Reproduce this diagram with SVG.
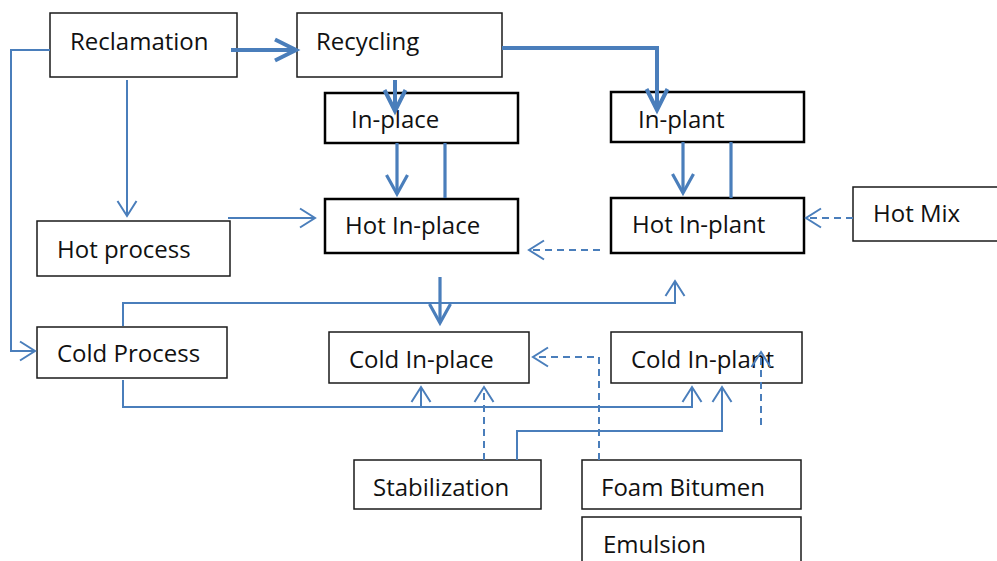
<svg xmlns="http://www.w3.org/2000/svg" width="997" height="561" viewBox="0 0 997 561">
<style>
.box{fill:#fff;stroke:#1a1a1a;stroke-width:1.5}
.boxb{fill:#fff;stroke:#000;stroke-width:2.5}
.t{font-family:"Open Sans","Noto Sans","DejaVu Sans",sans-serif;font-size:24px;fill:#111}
.c{fill:none;stroke:#4a7ebb;stroke-linejoin:miter}
.thin{stroke-width:2;marker-end:url(#aThin)}
.thinn{stroke-width:2}
.dash{stroke-width:2;stroke-dasharray:7 5;marker-end:url(#aThin)}
.med{stroke-width:3.2}
.meda{stroke-width:3.2;marker-end:url(#aMed)}
.thick{stroke-width:4;marker-end:url(#aThick)}
</style>
<defs>
<marker id="aThin" markerUnits="userSpaceOnUse" orient="auto" overflow="visible" markerWidth="1" markerHeight="1">
<path d="M-15,-9.5 L0,0 L-15,9.5" fill="none" stroke="#4a7ebb" stroke-width="2"/>
</marker>
<marker id="aMed" markerUnits="userSpaceOnUse" orient="auto" overflow="visible" markerWidth="1" markerHeight="1">
<path d="M-19,-10.5 L0,0 L-19,10.5" fill="none" stroke="#4a7ebb" stroke-width="3.2"/>
</marker>
<marker id="aThick" markerUnits="userSpaceOnUse" orient="auto" overflow="visible" markerWidth="1" markerHeight="1">
<path d="M-21,-10.5 L0,0 L-21,10.5" fill="none" stroke="#4a7ebb" stroke-width="4"/>
</marker>
</defs>
<g id="nodes">
<g id="reclamation"><rect class="box" x="50" y="13" width="187" height="64"/><text class="t" x="70" y="50">Reclamation</text></g>
<g id="recycling"><rect class="box" x="297" y="13" width="205" height="64"/><text class="t" x="316" y="50">Recycling</text></g>
<g id="in-place"><rect class="boxb" x="325" y="93" width="193" height="50"/><text class="t" x="351" y="128">In-place</text></g>
<g id="in-plant"><rect class="boxb" x="611" y="92" width="193" height="50"/><text class="t" x="638" y="128">In-plant</text></g>
<g id="hot-process"><rect class="box" x="37" y="221" width="193" height="55"/><text class="t" x="57" y="258">Hot process</text></g>
<g id="hot-in-place"><rect class="boxb" x="325" y="199" width="193" height="54"/><text class="t" x="345" y="234">Hot In-place</text></g>
<g id="hot-in-plant"><rect class="boxb" x="611" y="198" width="193" height="55"/><text class="t" x="632" y="233">Hot In-plant</text></g>
<g id="hot-mix"><rect class="box" x="853" y="187" width="150" height="54"/><text class="t" x="873" y="222">Hot Mix</text></g>
<g id="cold-process"><rect class="box" x="37" y="327" width="190" height="51"/><text class="t" x="57" y="362">Cold Process</text></g>
<g id="cold-in-place"><rect class="box" x="329" y="332" width="200" height="51"/><text class="t" x="349" y="368">Cold In-place</text></g>
<g id="cold-in-plant"><rect class="box" x="611" y="332" width="191" height="51"/><text class="t" x="631" y="368">Cold In-plant</text></g>
<g id="stabilization"><rect class="box" x="354" y="460" width="187" height="49"/><text class="t" x="373" y="496">Stabilization</text></g>
<g id="foam-bitumen"><rect class="box" x="582" y="460" width="219" height="49"/><text class="t" x="601" y="496">Foam Bitumen</text></g>
<g id="emulsion"><rect class="box" x="582" y="517" width="219" height="50"/><text class="t" x="603" y="553">Emulsion</text></g>
</g>
<g id="connectors" class="c">
<path class="c thick" d="M231,50 H296"/>
<path class="c thick" d="M502,48 H657 V110"/>
<path class="c thick" d="M395,80 V111"/>
<path class="c thin" d="M50,50 H11 V351 H35"/>
<path class="c thin" d="M127,80 V216"/>
<path class="c thin" d="M228,218 H315"/>
<path class="c meda" d="M397,143 V194"/>
<path class="c med" d="M445,143 V198"/>
<path class="c meda" d="M683,142 V193"/>
<path class="c med" d="M731,142 V198"/>
<path class="c dash" d="M853,218 H806"/>
<path class="c dash" d="M600,250 H529"/>
<path class="c meda" d="M440,277 V323"/>
<path class="c thin" d="M123,326 V303 H675 V281"/>
<path class="c thin" d="M123,380 V407 H692 V387"/>
<path class="c thin" d="M421,407 V387"/>
<path class="c dash" d="M484,460 V387"/>
<path class="c thin" d="M517,460 V431 H722 V387"/>
<path class="c dash" d="M599,460 V357 H533"/>
<path class="c dash" d="M761,425 V352"/>
</g>
</svg>
